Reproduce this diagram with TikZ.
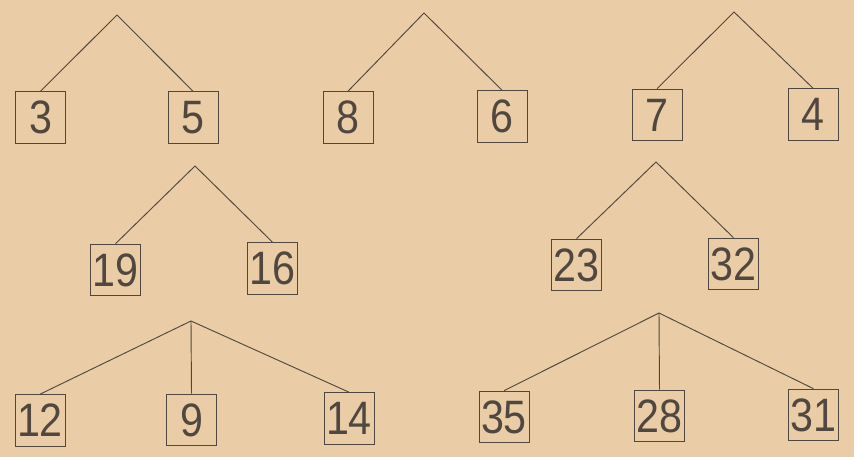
\documentclass[tikz,border=0pt]{standalone}
\usepackage{fontspec}
\setmainfont{Liberation Sans}
\newfontfamily\digitfont[FakeStretch=0.88]{Liberation Sans}
\definecolor{paper}{RGB}{234,205,166}
\definecolor{ink}{RGB}{80,72,64}
\tikzset{
    numbox/.style={draw=ink, line width=0.8pt, text=ink, minimum width=1.5cm,
        minimum height=1.55cm, inner sep=0pt, font=\digitfont\fontsize{40}{40}\selectfont},
    branch/.style={ink, line width=0.8pt}
}
\begin{document}
\begin{tikzpicture}[x=0.03cm, y=-0.03cm]
    \fill[paper] (0,0) rectangle (854,457);
    \useasboundingbox (0,0) rectangle (854,457);

    % Top row
    \coordinate (a1) at (117,15);
    \coordinate (a2) at (424,13);
    \coordinate (a3) at (734,12);
    \node[numbox] (n3) at (40.5,117.5) {3};
    \node[numbox] (n5) at (193,117.5) {5};
    \node[numbox] (n8) at (348,117.5) {8};
    \node[numbox] (n6) at (502,116.5) {6};
    \node[numbox] (n7) at (657,115) {7};
    \node[numbox] (n4) at (813,114.5) {4};

    % Middle row
    \coordinate (a4) at (195,166);
    \coordinate (a5) at (656,162);
    \node[numbox] (n19) at (115.5,270) {19};
    \node[numbox] (n16) at (272.5,268.5) {16};
    \node[numbox] (n23) at (576.5,265) {23};
    \node[numbox] (n32) at (733.5,264) {32};

    % Bottom row
    \coordinate (a6) at (191,321);
    \coordinate (a7) at (659,313);
    \node[numbox] (n12) at (40,420.5) {12};
    \node[numbox] (n9) at (191.5,420) {9};
    \node[numbox] (n14) at (349,418.5) {14};
    \node[numbox] (n35) at (504,417) {35};
    \node[numbox] (n28) at (659.5,416) {28};
    \node[numbox] (n31) at (813.5,415) {31};

    % Branches
    \foreach \a/\l/\r in {a1/n3/n5, a2/n8/n6, a3/n7/n4, a4/n19/n16, a5/n23/n32}
        \draw[branch] (\l.north) -- (\a) -- (\r.north);
    \foreach \a/\b in {a6/n12, a6/n9, a6/n14, a7/n35, a7/n28, a7/n31}
        \draw[branch] (\a) -- (\b.north);
\end{tikzpicture}
\end{document}
